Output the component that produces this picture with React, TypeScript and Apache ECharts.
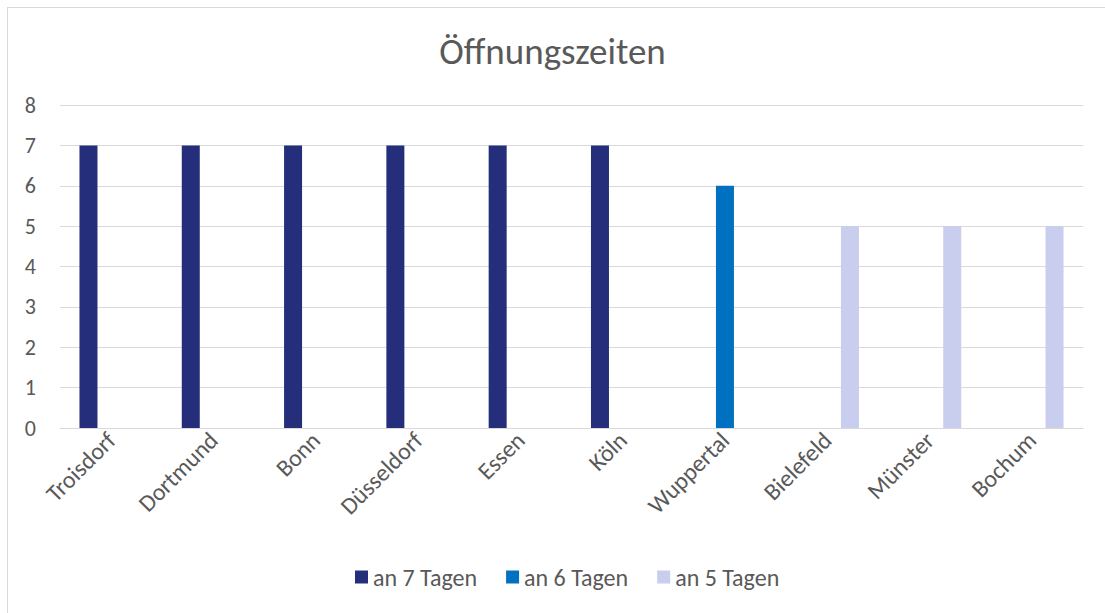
import React, { useEffect, useRef } from "react";
import * as echarts from "echarts";

const categories = ["Troisdorf", "Dortmund", "Bonn", "Düsseldorf", "Essen", "Köln", "Wuppertal", "Bielefeld", "Münster", "Bochum"];
const seriesNames = ["an 7 Tagen", "an 6 Tagen", "an 5 Tagen"];
const days7 = [7, 7, 7, 7, 7, 7, null, null, null, null];
const days6 = [null, null, null, null, null, null, 6, null, null, null];
const days5 = [null, null, null, null, null, null, null, 5, 5, 5];
const colors = ["#252E7A", "#0070C0", "#C9CDEE"];

export default function App() {
  const ref = useRef<HTMLDivElement>(null);
  useEffect(() => {
    const chart = echarts.init(ref.current!, null, { renderer: "svg" });
    const font = "Carlito, 'Open Sans', 'Noto Sans', sans-serif";
    const mk = (name: string, data: (number | null)[], color: string) => ({
      type: "bar",
      name,
      data,
      barWidth: 18,
      barGap: "26%",
      itemStyle: { color },
    });
    chart.setOption({
      animation: false,
      backgroundColor: "#fff",
      textStyle: { fontFamily: font },
      title: {
        text: "Öffnungszeiten",
        left: "center",
        top: 28,
        textStyle: { fontFamily: font, fontSize: 37, fontWeight: "normal", color: "#595959" },
      },
      legend: {
        bottom: 19,
        left: 350,
        itemWidth: 13,
        itemHeight: 13,
        itemGap: 29,
        icon: "rect",
        textStyle: { fontFamily: font, fontSize: 24, color: "#595959" },
        data: seriesNames,
      },
      grid: { left: 60, right: 22, top: 105, bottom: 185, containLabel: false },
      xAxis: {
        type: "category",
        data: categories,
        axisLine: { lineStyle: { color: "#D9D9D9", width: 1 } },
        axisTick: { show: false },
        axisLabel: { rotate: 45, fontSize: 24, color: "#595959", fontFamily: font, margin: 8, interval: 0 },
      },
      yAxis: {
        type: "value",
        min: 0,
        max: 8,
        interval: 1,
        axisLine: { show: false },
        axisTick: { show: false },
        axisLabel: { fontSize: 22, color: "#595959", fontFamily: font, margin: 24 },
        splitLine: { lineStyle: { color: "#D9D9D9", width: 1 } },
      },
      graphic: [
        { type: "line", shape: { x1: 7.5, y1: 7, x2: 7.5, y2: 613 }, style: { stroke: "#D9D9D9", lineWidth: 1 } },
        { type: "line", shape: { x1: 7, y1: 7.5, x2: 1105, y2: 7.5 }, style: { stroke: "#D9D9D9", lineWidth: 1 } },
      ],
      series: [mk(seriesNames[0], days7, colors[0]), mk(seriesNames[1], days6, colors[1]), mk(seriesNames[2], days5, colors[2])],
    });
    return () => chart.dispose();
  }, []);
  return <div ref={ref} style={{ position: "fixed", left: 0, top: 0, width: 1105, height: 613 }} />;
}
